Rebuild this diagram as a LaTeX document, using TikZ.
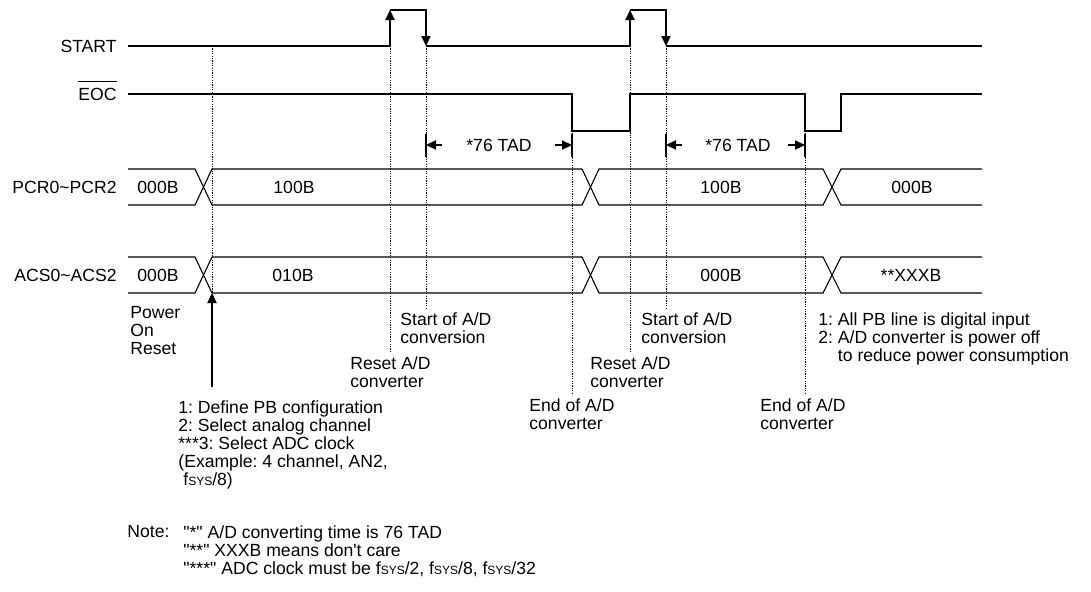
\documentclass[tikz,border=0pt]{standalone}
\usepackage{fontspec}
\setmainfont{Liberation Sans}[Ligatures=TeXOff]
\usetikzlibrary{arrows.meta}
\frenchspacing
\newcommand{\fsys}{f{\fontsize{6}{6}\selectfont SYS}}
\tikzset{
  sig/.style={line width=0.7pt},
  bus/.style={line width=0.55pt},
  guide/.style={line width=0.4pt, dash pattern=on 0.6pt off 0.6pt},
  tip/.style={-{Triangle[length=5pt,width=4.6pt]}},
  lbl/.style={inner sep=0pt, font=\fontsize{8.8}{9}\selectfont},
  note/.style={lbl, anchor=north west, align=left},
}
\begin{document}
\begin{tikzpicture}[x=0.5pt, y=-0.5pt]
\useasboundingbox (0,0) rectangle (1091,591);

% Signal names
\node[lbl, anchor=base east] (start) at (117,52) {START};
\node[lbl, anchor=base east] (eoc) at (117,100) {EOC};
\draw[line width=0.5pt] ([yshift=3pt]eoc.north west) -- ([yshift=3pt]eoc.north east);
\node[lbl, anchor=base east] (pcr) at (117,193) {PCR0\textasciitilde PCR2};
\node[lbl, anchor=base east] (acs) at (117,281) {ACS0\textasciitilde ACS2};

% START pulses
\draw[sig] (128,46) -- (390,46);
\draw[sig] (426,46) -- (630,46);
\draw[sig] (666,46) -- (982,46);
\foreach \a/\b in {390/426, 630/666} {
    \draw[sig, tip] (\a,46) -- (\a,10);
    \draw[sig, tip] (\a,10) -- (\b,10) -- (\b,46);
}

% EOC
\draw[sig] (128,94) -- (572,94) -- (572,131) -- (630,131) -- (630,94)
    -- (805,94) -- (805,131) -- (841,131) -- (841,94) -- (982,94);

% Buses
\foreach \yc in {187, 275} {
    \draw[bus] (128,{\yc-18}) -- (195,{\yc-18}) -- (212,{\yc+18}) -- (582,{\yc+18})
        -- (599,{\yc-18}) -- (823,{\yc-18}) -- (841,{\yc+18}) -- (982,{\yc+18});
    \draw[bus] (128,{\yc+18}) -- (195,{\yc+18}) -- (212,{\yc-18}) -- (582,{\yc-18})
        -- (599,{\yc+18}) -- (823,{\yc+18}) -- (841,{\yc-18}) -- (982,{\yc-18});
}
\foreach \x/\y/\val/\i in {158/187/000B/1, 294/187/100B/2, 721/187/100B/3, 912/187/000B/4,
                           158/275/000B/5, 293/275/010B/6, 721/275/000B/7, 911/275/**XXXB/8} {
    \node[lbl] (val\i) at (\x,\y) {\val};
}

% Guide lines
\draw[guide] (212,46) -- (212,293);
\draw[guide] (390,46) -- (390,352);
\draw[guide] (426,46) -- (426,308);
\draw[guide] (572,131) -- (572,395);
\draw[guide] (630,46) -- (630,353);
\draw[guide] (666,46) -- (666,308);
\draw[guide] (805,131) -- (805,395);

% Conversion time
\foreach \a/\b/\m in {426/572/499, 666/805/738} {
    \draw[sig] (\a,134) -- (\a,157);
    \draw[sig] (\b,134) -- (\b,157);
    \draw[sig, tip] ({\a+16},145) -- (\a,145);
    \draw[sig, tip] ({\b-17},145) -- (\b,145);
    \node[lbl] (tad\a) at (\m,145) {*76 TAD};
}

% Event labels
\node[note] (por) at (130,306) {Power\\On\\Reset};
\node[note] (rst1) at (350,356) {Reset A/D\\converter};
\node[note] (soc1) at (400,312) {Start of A/D\\conversion};
\node[note] (end1) at (529,398) {End of A/D\\converter};
\node[note] (rst2) at (590,356) {Reset A/D\\converter};
\node[note] (soc2) at (641,312) {Start of A/D\\conversion};
\node[note] (end2) at (760,398) {End of A/D\\converter};
\node[note] (off) at (818,312) {1: All PB line is digital input\\2: A/D converter is power off\\\phantom{2: }to reduce power consumption};

% Configuration step
\node[note] (cfg) at (178,400) {1: Define PB configuration\\2: Select analog channel\\***3: Select ADC clock\\(Example: 4 channel, AN2,\\\hspace{2.5pt}\fsys/8)};
\coordinate (xa) at (212,293);
\coordinate (cfgtop) at (212,387);
\draw[sig, tip] (cfgtop) -- (xa);

% Notes
\node[note] (notehd) at (127,525) {Note:};
\node[note] (notes) at (183,525) {"*" A/D converting time is 76 TAD\\"**" XXXB means don't care\\"***" ADC clock must be \fsys/2, \fsys/8, \fsys/32};

\end{tikzpicture}
\end{document}
